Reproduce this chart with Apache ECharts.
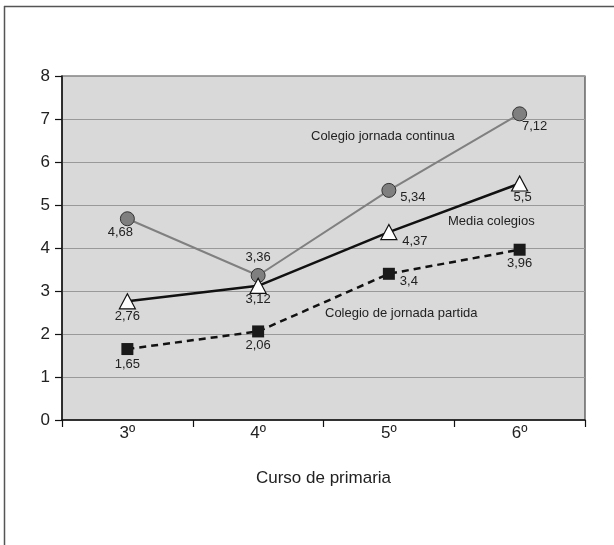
<!DOCTYPE html>
<html>
<head>
<meta charset="utf-8">
<script src="https://cdn.jsdelivr.net/npm/echarts@6/dist/echarts.min.js"></script>
<style>
  html, body { margin: 0; padding: 0; background: #fff; }
  #chart { width: 614px; height: 545px; }
</style>
</head>
<body>
<div id="chart"></div>
<script>
// ---- data ----
var categories = ['3º', '4º', '5º', '6º'];
var continua = [4.68, 3.36, 5.34, 7.12];
var media = [2.76, 3.12, 4.37, 5.5];
var partida = [1.65, 2.06, 3.4, 3.96];
var yTicks = [0, 1, 2, 3, 4, 5, 6, 7, 8];
var seriesNames = ['Colegio jornada continua', 'Media colegios', 'Colegio de jornada partida'];
var axisTitle = 'Curso de primaria';

// ---- layout (label offsets relative to point) ----
var offContinua = [[-7, 14], [0, -18], [24, 7], [15, 13]];
var offMedia = [[0, 15], [0, 13.5], [26, 9], [3, 14]];
var offPartida = [[0, 15], [0, 14.5], [20, 8], [0, 14]];

var FONT = '"Liberation Sans", Arial, Helvetica, sans-serif';

function fmt(v) { return String(v).replace('.', ','); }
function buildData(vals, offs) {
  return vals.map(function (v, i) {
    return {
      value: v,
      label: { show: true, position: 'inside', offset: offs[i], formatter: function (p) { return fmt(p.value); } }
    };
  });
}
var labelStyle = { color: '#222', fontSize: 13, fontFamily: FONT };

var chart = echarts.init(document.getElementById('chart'), null, { renderer: 'canvas' });
chart.setOption({
  animation: false,
  backgroundColor: '#fff',
  grid: {
    left: 62, right: 29, top: 76, bottom: 125,
    show: true, backgroundColor: '#d9d9d9', borderColor: '#444', borderWidth: 1.2
  },
  xAxis: {
    type: 'category',
    data: categories,
    boundaryGap: true,
    name: axisTitle,
    nameLocation: 'middle',
    nameGap: 50,
    nameTextStyle: { color: '#222', fontSize: 17, fontFamily: FONT },
    axisLine: { lineStyle: { color: '#111', width: 1.5 } },
    axisTick: { show: true, length: 7, alignWithLabel: false, lineStyle: { color: '#111', width: 1.2 } },
    axisLabel: { color: '#222', fontSize: 17, fontFamily: FONT, margin: 5 },
    splitLine: { show: false }
  },
  yAxis: {
    type: 'value',
    min: yTicks[0], max: yTicks[yTicks.length - 1], interval: 1,
    axisLine: { show: true, lineStyle: { color: '#111', width: 1.5 } },
    axisTick: { show: true, length: 7, lineStyle: { color: '#111', width: 1.2 } },
    axisLabel: { color: '#222', fontSize: 17, fontFamily: FONT, margin: 12 },
    splitLine: { show: true, lineStyle: { color: '#999', width: 1.2 } }
  },
  series: [
    {
      name: seriesNames[0], type: 'line',
      data: buildData(continua, offContinua),
      symbol: 'circle', symbolSize: 14,
      lineStyle: { color: '#808080', width: 2 },
      itemStyle: { color: '#7f7f7f', borderColor: '#333', borderWidth: 1 },
      label: labelStyle, z: 3
    },
    {
      name: seriesNames[1], type: 'line',
      data: buildData(media, offMedia),
      symbol: 'triangle', symbolSize: [16, 15],
      lineStyle: { color: '#111', width: 2.5 },
      itemStyle: { color: '#fff', borderColor: '#111', borderWidth: 1.2 },
      label: labelStyle, z: 4
    },
    {
      name: seriesNames[2], type: 'line',
      data: buildData(partida, offPartida),
      symbol: 'rect', symbolSize: 12,
      lineStyle: { color: '#111', width: 2.5, type: [7, 5] },
      itemStyle: { color: '#1a1a1a', borderColor: '#111', borderWidth: 0 },
      label: labelStyle, z: 4
    }
  ],
  graphic: [
    { type: 'line', shape: { x1: 4, y1: 6.5, x2: 614, y2: 6.5 }, style: { stroke: '#555', lineWidth: 1.5 }, silent: true },
    { type: 'line', shape: { x1: 4.5, y1: 6, x2: 4.5, y2: 545 }, style: { stroke: '#555', lineWidth: 1.5 }, silent: true },
    { type: 'text', left: 311, top: 130, style: { text: seriesNames[0], fill: '#222', font: '13px ' + FONT } },
    { type: 'text', left: 448, top: 215, style: { text: seriesNames[1], fill: '#222', font: '13px ' + FONT } },
    { type: 'text', left: 325, top: 307, style: { text: seriesNames[2], fill: '#222', font: '13px ' + FONT } }
  ]
});
</script>
</body>
</html>
